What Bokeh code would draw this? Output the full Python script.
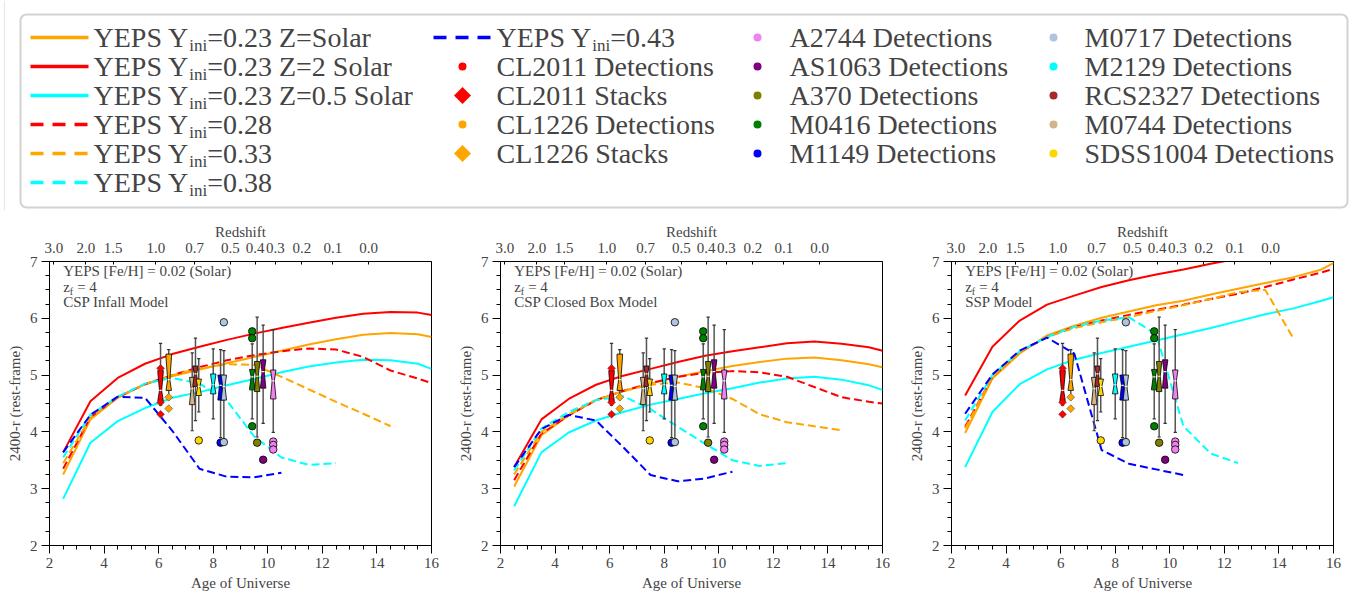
from bokeh.plotting import figure
from bokeh.models import Range1d, LinearAxis, FixedTicker, SingleIntervalTicker, Label
from bokeh.layouts import column, row
from bokeh.embed import file_html
from bokeh.resources import INLINE

FONT = "Liberation Serif"

# ---------------- data ----------------
model_ages = [2.5, 3.5, 4.5, 5.5, 6.5, 7.5, 8.5, 9.5, 10.5, 11.5, 12.5, 13.5, 14.5, 15.5, 16.0]

# CSP infall model
infall_z_solar = [3.25, 4.22, 4.60, 4.84, 4.98, 5.10, 5.21, 5.32, 5.43, 5.54, 5.63, 5.71, 5.74, 5.72, 5.67]
infall_z_2solar = [3.64, 4.54, 4.95, 5.20, 5.37, 5.50, 5.62, 5.73, 5.83, 5.92, 6.01, 6.08, 6.11, 6.10, 6.06]
infall_z_half = [2.82, 3.81, 4.19, 4.42, 4.60, 4.70, 4.82, 4.93, 5.05, 5.15, 5.22, 5.27, 5.26, 5.20, 5.11]
infall_y028 = [3.35, 4.26, 4.61, 4.84, 5.00, 5.14, 5.26, 5.35, 5.42, 5.47, 5.45, 5.32, 5.08, 4.94, 4.86]
infall_y033 = [3.45, 4.25, 4.61, 4.84, 5.00, 5.12, 5.19, 5.18, 4.97, 4.75, 4.53, 4.32, 4.10]
infall_y038 = [3.55, 4.30, 4.62, 4.85, 4.95, 4.85, 4.55, 3.92, 3.55, 3.42, 3.45]
infall_y043 = [3.64, 4.30, 4.62, 4.60, 4.02, 3.35, 3.21, 3.20, 3.28]

# CSP closed box model
closed_z_solar = [3.04, 3.94, 4.29, 4.56, 4.72, 4.85, 4.97, 5.07, 5.16, 5.23, 5.29, 5.31, 5.26, 5.19, 5.14]
closed_z_2solar = [3.38, 4.22, 4.58, 4.83, 4.99, 5.11, 5.23, 5.34, 5.42, 5.49, 5.56, 5.59, 5.55, 5.49, 5.43]
closed_z_half = [2.69, 3.64, 3.99, 4.20, 4.35, 4.48, 4.58, 4.68, 4.77, 4.87, 4.94, 4.97, 4.92, 4.82, 4.74]
closed_y028 = [3.15, 3.97, 4.29, 4.56, 4.72, 4.86, 4.97, 5.04, 5.07, 5.05, 4.97, 4.79, 4.61, 4.53, 4.50]
closed_y033 = [3.25, 4.00, 4.31, 4.56, 4.72, 4.83, 4.87, 4.77, 4.58, 4.31, 4.17, 4.10, 4.03]
closed_y038 = [3.32, 4.06, 4.35, 4.56, 4.63, 4.40, 4.09, 3.79, 3.50, 3.40, 3.45]
closed_y043 = [3.38, 4.05, 4.30, 4.20, 3.73, 3.24, 3.13, 3.18, 3.30]

# SSP model
ssp_z_solar = [3.98, 4.94, 5.38, 5.70, 5.87, 6.01, 6.12, 6.23, 6.31, 6.42, 6.52, 6.62, 6.72, 6.85, 6.97]
ssp_z_2solar = [4.64, 5.50, 5.96, 6.24, 6.40, 6.55, 6.67, 6.77, 6.86, 6.96, 7.05, 7.14, 7.22, 7.30, 7.34]
ssp_z_half = [3.38, 4.35, 4.84, 5.10, 5.27, 5.39, 5.50, 5.61, 5.72, 5.83, 5.95, 6.07, 6.17, 6.30, 6.37]
ssp_y028 = [4.09, 4.97, 5.41, 5.67, 5.85, 5.96, 6.06, 6.15, 6.24, 6.34, 6.43, 6.55, 6.68, 6.80, 6.87]
ssp_y033 = [4.06, 4.97, 5.41, 5.67, 5.83, 5.93, 6.02, 6.13, 6.23, 6.34, 6.46, 6.50, 5.67]
ssp_y038 = [4.20, 5.00, 5.42, 5.67, 5.85, 5.96, 6.02, 5.72, 4.10, 3.62, 3.45]
ssp_y043 = [4.32, 5.01, 5.43, 5.66, 5.38, 3.68, 3.44, 3.34, 3.24]

model_sub_pre = "YEPS Y"
model_sub = "ini"
model_label_rest = ["=0.23 Z=Solar", "=0.23 Z=2 Solar", "=0.23 Z=0.5 Solar",
                    "=0.28", "=0.33", "=0.38", "=0.43"]
model_colors = ["#FFA500", "#FF0000", "#00FFFF", "#FF0000", "#FFA500", "#00FFFF", "#0000FF"]
model_dashed = [False, False, False, True, True, True, True]

panel_names = ["CSP Infall Model", "CSP Closed Box Model", "SSP Model"]
panel_series = [
    [infall_z_solar, infall_z_2solar, infall_z_half, infall_y028, infall_y033, infall_y038, infall_y043],
    [closed_z_solar, closed_z_2solar, closed_z_half, closed_y028, closed_y033, closed_y038, closed_y043],
    [ssp_z_solar, ssp_z_2solar, ssp_z_half, ssp_y028, ssp_y033, ssp_y038, ssp_y043],
]

redshift_labels = ["3.0", "2.0", "1.5", "1.0", "0.7", "0.5", "0.4", "0.3", "0.2", "0.1", "0.0"]
redshift_ages = [2.16, 3.33, 4.33, 5.9, 7.32, 8.63, 9.54, 10.28, 11.25, 12.39, 13.7]

# box plots of cluster detections (same in every panel)
cluster_names = ["CL2011", "CL1226", "M0744", "RCS2327", "SDSS1004", "M2129",
                 "M1149", "M0717", "M0416", "A370", "AS1063", "A2744"]
cluster_colors = ["#FF0000", "#FFA500", "#D2B48C", "#A52A2A", "#FFD700", "#00FFFF",
                  "#0000FF", "#B0C4DE", "#008000", "#808000", "#800080", "#EE82EE"]
cluster_ages = [6.07, 6.37, 7.23, 7.35, 7.47, 8.00, 8.27, 8.39, 9.43, 9.61, 9.83, 10.20]
whisker_low = [4.47, 4.61, 4.02, 4.20, 4.35, 4.23, 3.90, 3.88, 4.23, 3.91, 4.15, 3.99]
box_q1 = [4.55, 4.73, 4.48, 4.80, 4.64, 4.67, 4.56, 4.56, 4.74, 4.71, 4.77, 4.58]
box_median = [4.73, 4.92, 4.76, 5.02, 4.80, 4.83, 4.82, 4.80, 4.97, 4.98, 5.06, 4.90]
box_q3 = [5.08, 5.37, 4.96, 5.16, 4.93, 5.02, 5.00, 5.00, 5.10, 5.24, 5.27, 5.09]
whisker_high = [5.56, 5.45, 5.39, 5.65, 5.29, 5.46, 5.45, 5.43, 5.55, 6.02, 5.88, 5.80]
outlier_values = [[], [], [], [], [3.85], [], [3.81], [5.93, 3.82],
                  [5.77, 5.65, 4.10], [3.81], [3.51], [3.83, 3.77, 3.69]]

stack_colors = ["#FF0000", "#FFA500"]
stack_ages = [6.07, 6.37]
stack_values = [[5.12, 4.52, 4.31], [4.61, 4.41]]

legend_marker_labels = ["CL2011 Detections", "CL2011 Stacks", "CL1226 Detections", "CL1226 Stacks",
                        "A2744 Detections", "AS1063 Detections", "A370 Detections", "M0416 Detections",
                        "M1149 Detections", "M0717 Detections", "M2129 Detections", "RCS2327 Detections",
                        "M0744 Detections", "SDSS1004 Detections"]
legend_marker_colors = ["#FF0000", "#FF0000", "#FFA500", "#FFA500",
                        "#EE82EE", "#800080", "#808000", "#008000", "#0000FF",
                        "#B0C4DE", "#00FFFF", "#A52A2A", "#D2B48C", "#FFD700"]
legend_marker_kinds = ["circle", "diamond", "circle", "diamond"] + ["circle"] * 10

# Times-metric widths (per 1000 em) for subscript placement
CW = {"Y": 722, "E": 611, "P": 556, "S": 556, " ": 250, "i": 278, "n": 500, "z": 444, "f": 333}
DIAMOND_ANGLE = 0.7853981634


def tw(s, size):
    return sum(CW[c] for c in s) * size / 1000.0


# ---------------- legend ----------------
LW, LH = 1356, 210
leg = figure(width=LW, height=LH, x_range=Range1d(0, LW), y_range=Range1d(LH, 0),
             output_backend="svg", toolbar_location=None, min_border=0)
leg.axis.visible = False
leg.grid.visible = False
leg.outline_line_color = None
leg.background_fill_color = "white"
leg.border_fill_color = "white"
leg.quad(left=[20], right=[1347], top=[14], bottom=[207], border_radius=6,
         fill_color="white", line_color="#d2d2d2", line_width=2)
leg.line([4, 4], [0, 210], line_color="#e6e6e6", line_width=1)

row_y = [37 + 29 * i for i in range(6)]
FS, SFS = 28, 17
line_cols = [(30, 88, 93)] * 6 + [(433, 491, 496)]
line_rows = [0, 1, 2, 3, 4, 5, 0]
for i in range(7):
    x0, x1, xt = line_cols[i]
    y = row_y[line_rows[i]]
    leg.line([x0, x1], [y, y], line_color=model_colors[i], line_width=3.5,
             line_dash="13 9" if model_dashed[i] else "solid")
    leg.add_layout(Label(x=xt, y=y, text=model_sub_pre, text_font=FONT,
                         text_font_size=f"{FS}px", text_baseline="middle"))
    w1 = tw(model_sub_pre, FS)
    leg.add_layout(Label(x=xt, y=y, x_offset=w1, y_offset=-8, text=model_sub, text_font=FONT,
                         text_font_size=f"{SFS}px", text_baseline="middle"))
    w2 = tw(model_sub, SFS)
    leg.add_layout(Label(x=xt, y=y, x_offset=w1 + w2, text=model_label_rest[i], text_font=FONT,
                         text_font_size=f"{FS}px", text_baseline="middle"))

marker_slots = [(462, 496, r) for r in (1, 2, 3, 4)] + \
               [(757, 789, r) for r in range(5)] + \
               [(1053, 1084, r) for r in range(5)]
for i, lab in enumerate(legend_marker_labels):
    xm, xt, r = marker_slots[i]
    y = row_y[r]
    if legend_marker_kinds[i] == "circle":
        leg.scatter([xm], [y], marker="circle", size=8, fill_color=legend_marker_colors[i], line_color=None)
    else:
        leg.scatter([xm], [y], marker="square", size=12, angle=DIAMOND_ANGLE,
                    fill_color=legend_marker_colors[i], line_color=None)
    leg.add_layout(Label(x=xt, y=y, text=lab, text_font=FONT, text_font_size=f"{FS}px",
                         text_baseline="middle"))


# ---------------- panels ----------------
def make_panel(width, left, right, series, name):
    p = figure(width=width, height=383, x_range=Range1d(2, 16), y_range=Range1d(2, 7),
               output_backend="svg", toolbar_location=None,
               min_border_left=left, min_border_right=right, min_border_top=51, min_border_bottom=48)
    p.grid.visible = False
    p.outline_line_color = "black"
    p.outline_line_width = 1
    p.background_fill_color = "white"
    p.border_fill_color = "white"
    p.xaxis.ticker = SingleIntervalTicker(interval=2, num_minor_ticks=4)
    p.yaxis.ticker = SingleIntervalTicker(interval=1, num_minor_ticks=4)
    p.xaxis.axis_label = "Age of Universe"
    p.yaxis.axis_label = "2400-r (rest-frame)"
    top = LinearAxis(ticker=FixedTicker(ticks=redshift_ages, minor_ticks=[]),
                     major_label_overrides={a: l for a, l in zip(redshift_ages, redshift_labels)},
                     axis_label="Redshift")
    p.add_layout(top, "above")
    for ax in p.xaxis + p.yaxis:
        ax.axis_label_text_font = FONT
        ax.axis_label_text_font_size = "15px"
        ax.axis_label_text_font_style = "normal"
        ax.major_label_text_font = FONT
        ax.major_label_text_font_size = "15px"
        ax.axis_line_color = "black"
        ax.major_tick_line_color = "black"
        ax.minor_tick_line_color = "black"
        ax.major_tick_in = 0
        ax.major_tick_out = 8
        ax.minor_tick_in = 0
        ax.minor_tick_out = 4
        ax.major_label_standoff = 4
        ax.axis_label_standoff = 4
    top.major_tick_in = 3
    top.major_tick_out = 0
    top.major_label_standoff = 9
    top.axis_label_standoff = 0

    # model curves
    for i, vals in enumerate(series):
        p.line(model_ages[:len(vals)], vals, line_color=model_colors[i], line_width=2.0,
               line_dash="8 4" if model_dashed[i] else "solid")

    # box plots
    hw, inset, cap = 0.1, 0.06, 0.06
    for i in range(len(cluster_names)):
        x = cluster_ages[i]
        c = cluster_colors[i]
        q1, med, q3 = box_q1[i], box_median[i], box_q3[i]
        p.segment(x0=[x, x], y0=[q3, q1], x1=[x, x], y1=[whisker_high[i], whisker_low[i]],
                  line_color="#555555", line_width=1.5)
        p.segment(x0=[x - cap, x - cap], y0=[whisker_high[i], whisker_low[i]],
                  x1=[x + cap, x + cap], y1=[whisker_high[i], whisker_low[i]],
                  line_color="#333333", line_width=1.2)
        half = 0.6 * (q3 - q1)
        nlo = max(q1, med - half)
        nhi = min(q3, med + half)
        xs = [x - hw, x - hw, x - hw + inset, x - hw, x - hw, x + hw, x + hw, x + hw - inset, x + hw, x + hw]
        ys = [q1, nlo, med, nhi, q3, q3, nhi, med, nlo, q1]
        p.patch(xs, ys, fill_color=c, line_color="black", line_width=0.8)
        p.segment(x0=[x - hw + inset], y0=[med], x1=[x + hw - inset], y1=[med],
                  line_color="white", line_width=1.2)
        outs = outlier_values[i]
        if outs:
            p.scatter([x] * len(outs), outs, marker="circle", size=7.5, fill_color=c,
                      line_color="black", line_width=0.8)
    for i in range(len(stack_ages)):
        vals = stack_values[i]
        p.scatter([stack_ages[i]] * len(vals), vals, marker="square", size=5.5, angle=DIAMOND_ANGLE,
                  fill_color=stack_colors[i], line_color="#333333", line_width=0.5)

    # annotations
    p.add_layout(Label(x=2.5, y=6.83, text="YEPS [Fe/H] = 0.02 (Solar)", text_font=FONT,
                       text_font_size="15px", text_baseline="middle"))
    p.add_layout(Label(x=2.5, y=6.55, text="z", text_font=FONT, text_font_size="15px",
                       text_baseline="middle"))
    p.add_layout(Label(x=2.5, y=6.55, x_offset=tw("z", 15), y_offset=-4.5, text="f", text_font=FONT,
                       text_font_size="10px", text_baseline="middle"))
    p.add_layout(Label(x=2.5, y=6.55, x_offset=14, text="= 4", text_font=FONT, text_font_size="15px",
                       text_baseline="middle"))
    p.add_layout(Label(x=2.5, y=6.28, text=name, text_font=FONT, text_font_size="15px",
                       text_baseline="middle"))
    return p


p1 = make_panel(452, 49, 21, panel_series[0], panel_names[0])
p2 = make_panel(452, 48, 22, panel_series[1], panel_names[1])
p3 = make_panel(452, 47, 23, panel_series[2], panel_names[2])

layout = column(leg, row(p1, p2, p3))
open("out.html", "w").write(file_html(layout, INLINE))
